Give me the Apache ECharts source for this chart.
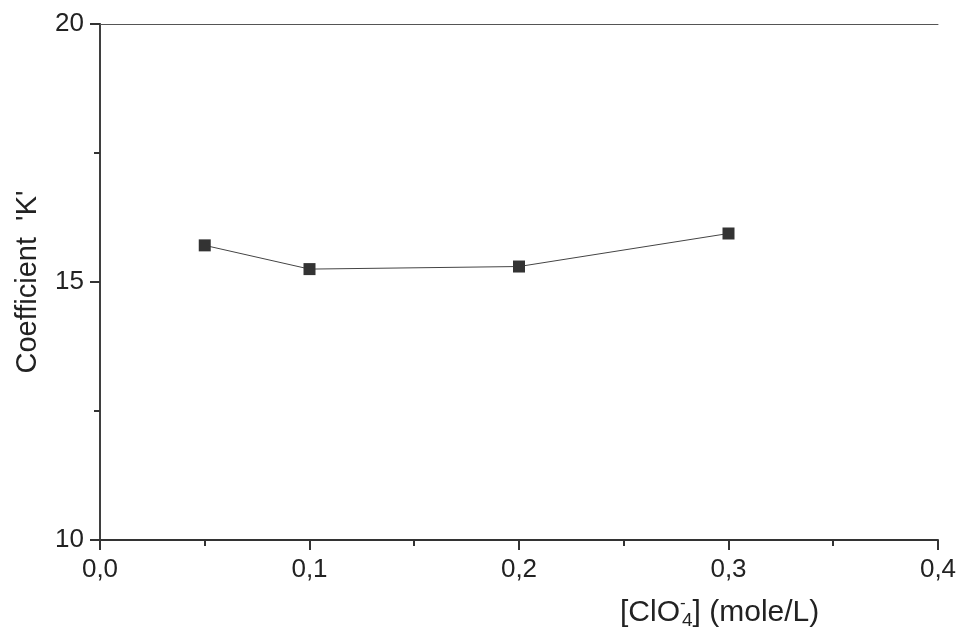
<!DOCTYPE html>
<html>
<head>
<meta charset="utf-8">
<style>
  html, body { margin: 0; padding: 0; background: #fff; }
  #main { width: 963px; height: 641px; }
</style>
<script src="https://cdn.jsdelivr.net/npm/echarts@6/dist/echarts.min.js"></script>
</head>
<body>
<div id="main"></div>
<script>
// perchlorate concentration (mole/L) and measured coefficient K
var concentration = [0.05, 0.1, 0.2, 0.3];
var coefficientK = [15.71, 15.25, 15.30, 15.94];

var xTicks = { min: 0, max: 0.4, interval: 0.1 };
var yTicks = { min: 10, max: 20, interval: 5 };

var axisColor = '#333';
var font = 'Liberation Sans, Arial, sans-serif';

var chart = echarts.init(document.getElementById('main'));

var points = concentration.map(function (x, i) {
    return [x, coefficientK[i]];
});

var option = {
    animation: false,
    grid: { left: 100, right: 25, top: 24, bottom: 101 },
    xAxis: [{
        type: 'value',
        min: xTicks.min,
        max: xTicks.max,
        interval: xTicks.interval,
        axisLine: { lineStyle: { color: axisColor, width: 2 } },
        axisTick: { length: 10, lineStyle: { color: axisColor, width: 2 } },
        minorTick: { show: true, splitNumber: 2, length: 6, lineStyle: { color: axisColor, width: 2 } },
        splitLine: { show: false },
        axisLabel: {
            margin: 17,
            color: '#222',
            fontSize: 26,
            fontFamily: font,
            formatter: function (v) { return v.toFixed(1).replace('.', ','); }
        }
    }, {
        type: 'value',
        position: 'top',
        min: xTicks.min,
        max: xTicks.max,
        axisLine: { show: true, lineStyle: { color: '#555', width: 1 } },
        axisTick: { show: false },
        axisLabel: { show: false },
        splitLine: { show: false }
    }],
    yAxis: [{
        type: 'value',
        min: yTicks.min,
        max: yTicks.max,
        interval: yTicks.interval,
        name: "Coefficient  'K'",
        nameLocation: 'middle',
        nameGap: 58,
        nameTextStyle: { color: '#222', fontSize: 29, fontFamily: font },
        axisLine: { lineStyle: { color: axisColor, width: 2 } },
        axisTick: { length: 10, lineStyle: { color: axisColor, width: 2 } },
        minorTick: { show: true, splitNumber: 2, length: 6, lineStyle: { color: axisColor, width: 2 } },
        splitLine: { show: false },
        axisLabel: { margin: 16, color: '#222', fontSize: 26, fontFamily: font }
    }, {
        type: 'value',
        position: 'right',
        min: yTicks.min,
        max: yTicks.max,
        axisLine: { show: true, lineStyle: { color: '#444', width: 1.5 } },
        axisTick: { show: false },
        axisLabel: { show: false },
        splitLine: { show: false }
    }],
    graphic: [{
        type: 'text',
        left: 620,
        top: 595,
        style: {
            text: '[ClO{sup|-}{sub|4}] (mole/L)',
            fill: '#222',
            font: '30px ' + font,
            rich: {
                sup: { fontSize: 17, fontFamily: font, fill: '#222', verticalAlign: 'top', width: 2, padding: [0, 0, 10, 0] },
                sub: { fontSize: 19, fontFamily: font, fill: '#222', verticalAlign: 'bottom', padding: [16, 0, 0, 0] }
            }
        }
    }],
    series: [{
        type: 'line',
        data: points,
        symbol: 'rect',
        symbolSize: 12,
        itemStyle: { color: '#333' },
        lineStyle: { color: '#444', width: 1 }
    }]
};

chart.setOption(option);
</script>
</body>
</html>
